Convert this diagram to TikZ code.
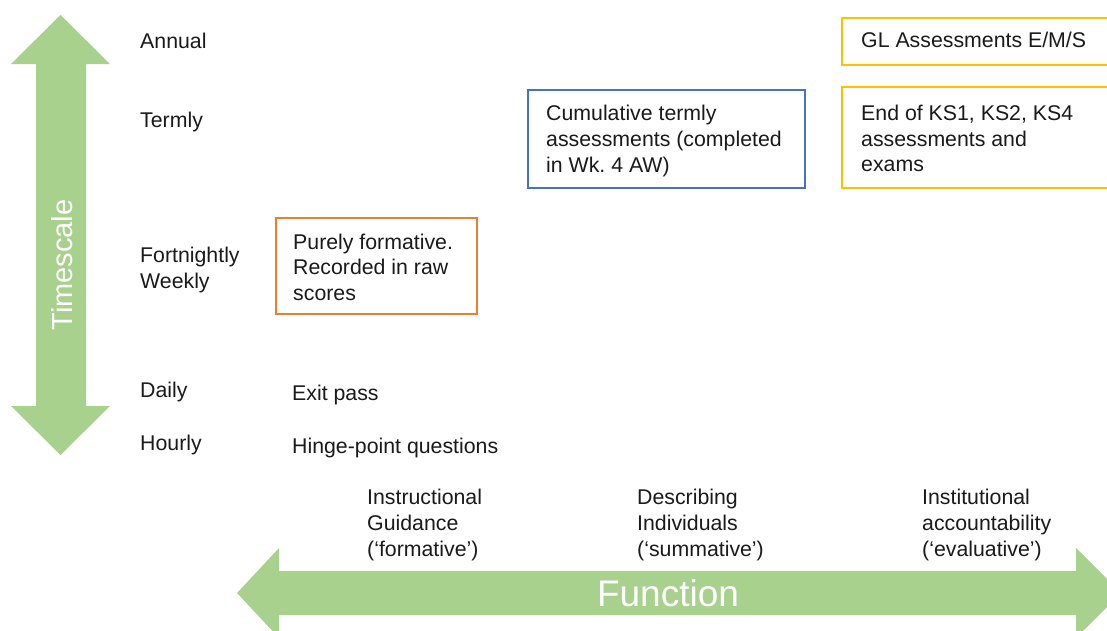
\documentclass[tikz,border=0pt]{standalone}
\usepackage{fontspec}
\setmainfont{Liberation Sans}
\frenchspacing
\definecolor{arrowgreen}{HTML}{A9D18E}
\definecolor{boxgold}{HTML}{FFC000}
\definecolor{boxblue}{HTML}{4472C4}
\definecolor{boxorange}{HTML}{ED7D31}
\definecolor{txt}{HTML}{1A1A1A}
\begin{document}
\begin{tikzpicture}[x=1pt,y=-1pt,
  lbl/.style={anchor=west,inner sep=0pt,align=left,text=txt,
    font=\fontsize{21.3}{25.7}\selectfont},
  frame/.style={draw=#1,line width=2.3pt,anchor=north west,inner sep=0pt},
  bigtext/.style={text=white,inner sep=0pt}]
\useasboundingbox (0,0) rectangle (1107,630);
\clip (0,0) rectangle (1107,630);
\fill[white] (0,0) rectangle (1107,630);

% vertical Timescale arrow
\fill[arrowgreen] (60.5,15) -- (110,64) -- (86,64) -- (86,406) -- (110,406)
  -- (60.5,455) -- (11,406) -- (36,406) -- (36,64) -- (11,64) -- cycle;
\node[bigtext,rotate=90,font=\fontsize{29}{32}\selectfont] (ts) at (62,265) {Timescale};

% horizontal Function arrow
\fill[arrowgreen] (237,593) -- (279,548) -- (279,571) -- (1076,571) -- (1076,548)
  -- (1121,593) -- (1076,638) -- (1076,615) -- (279,615) -- (279,638) -- cycle;
\node[bigtext,font=\fontsize{37}{40}\selectfont] (fn) at (668,593) {Function};

% timescale labels
\node[lbl] (annual) at (140,41) {Annual};
\node[lbl] (termly) at (140,122) {Termly};
\node[lbl] (fw) at (140,270) {Fortnightly\\Weekly};
\node[lbl] (daily) at (140,392) {Daily};
\node[lbl] (hourly) at (140,445) {Hourly};

% function labels
\node[lbl] (ig) at (367,525) {Instructional\\Guidance\\(‘formative’)};
\node[lbl] (di) at (637,525) {Describing\\Individuals\\(‘summative’)};
\node[lbl] (ia) at (922,525) {Institutional\\accountability\\(‘evaluative’)};

% plain entries
\node[lbl] (exit) at (292,395) {Exit pass};
\node[lbl] (hinge) at (292,448) {Hinge-point questions};

% boxes
\node[frame=boxgold,minimum width=300pt,minimum height=47pt] (gl) at (841,17) {};
\node[lbl] (gltxt) at ([xshift=20pt,yshift=2pt]gl.west) {GL Assessments E/M/S};

\node[frame=boxgold,minimum width=300pt,minimum height=101pt] (ks) at (841,86) {};
\node[lbl] (kstxt) at ([xshift=20pt,yshift=-1pt]ks.west) {End of KS1, KS2, KS4\\assessments and\\exams};

\node[frame=boxblue,minimum width=277pt,minimum height=98pt] (cum) at (527,89) {};
\node[lbl] (cumtxt) at ([xshift=19pt,yshift=-2pt]cum.west) {Cumulative termly\\assessments (completed\\in Wk. 4 AW)};

\node[frame=boxorange,minimum width=201pt,minimum height=96pt] (pf) at (275,217) {};
\node[lbl] (pftxt) at ([xshift=18pt,yshift=-1pt]pf.west) {Purely formative.\\Recorded in raw\\scores};
\end{tikzpicture}
\end{document}
